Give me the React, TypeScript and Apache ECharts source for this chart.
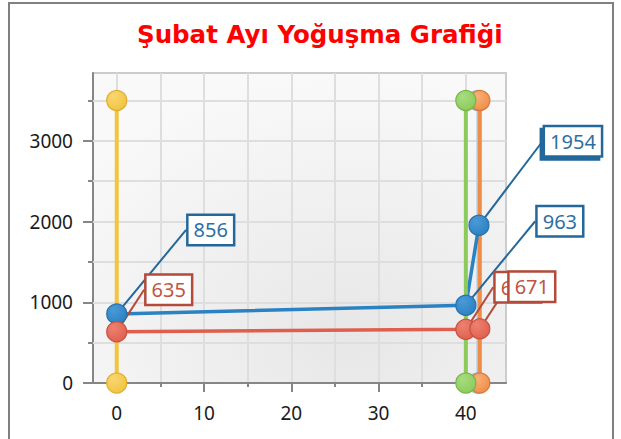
import React, { useEffect, useRef } from "react";
import * as echarts from "echarts";

const titleText = "Şubat Ayı Yoğuşma Grafiği";

const xMin = -2.72;
const xMax = 44.6;
const yMin = 0;
const yMax = 3840;

const xMajorTicks = [0, 10, 20, 30, 40];
const xMinorTicks = [5, 15, 25, 35];
const xGridValues = [0, 5, 10, 15, 20, 25, 30, 35, 40];
const yMajorTicks = [0, 1000, 2000, 3000];
const yMinorTicks = [500, 1500, 2500, 3500];
const yGridValues = [500, 1000, 1500, 2000, 2500, 3000, 3500];

const verticalY = [0, 3500];
const yellowX = [0, 0];
const greenX = [40, 40];
const lightBlueX = [41.35, 41.35];
const orangeX = [41.6, 41.6];

const blueX = [0, 40, 41.5];
const blueY = [856, 963, 1954];
const redX = [0, 40, 41.6];
const redY = [635, 665, 671];

const zip = (xs: number[], ys: number[]) => xs.map((x, i) => [x, ys[i]]);

const ball = (light: string, base: string) => ({
  type: "radial",
  x: 0.35,
  y: 0.3,
  r: 0.8,
  colorStops: [
    { offset: 0, color: light },
    { offset: 1, color: base },
  ],
});

const verticalSeries = (
  name: string,
  xs: number[],
  line: string,
  light: string,
  base: string,
  border: string,
  width = 4
) => ({
  name,
  type: "line",
  data: zip(xs, verticalY),
  symbol: "circle",
  symbolSize: 20,
  clip: false,
  lineStyle: { color: line, width, opacity: 1 },
  itemStyle: { color: ball(light, base), borderColor: border, borderWidth: 1.2 },
  label: { show: false },
  emphasis: { disabled: true },
});

const labelStyle = (text: string, border: string) => ({
  show: true,
  position: "inside",
  formatter: (p: any) => String(p.value[1]),
  color: text,
  fontSize: 20,
  fontFamily: "Noto Sans",
  backgroundColor: "#ffffff",
  borderColor: border,
  borderWidth: 2.5,
  padding: [4, 5, 2, 5],
  lineHeight: 22,
});

export default function App() {
  const ref = useRef<HTMLDivElement>(null);
  useEffect(() => {
    if (!ref.current) return;
    const chart = echarts.init(ref.current, undefined, { renderer: "svg" });
    const axisGray = "#868686";
    const gridGray = "#dedede";
    const blueData: any[] = zip(blueX, blueY).map((v) => ({ value: v }));
    blueData[2].label = {
      shadowColor: "#24679b",
      shadowBlur: 0,
      shadowOffsetX: -3,
      shadowOffsetY: 3,
    };
    const option: any = {
      animation: false,
      title: {
        text: titleText,
        left: 132,
        top: 17,
        textStyle: {
          color: "#ff0000",
          fontSize: 24.5,
          fontWeight: "bold",
          fontFamily: "DejaVu Sans",
        },
      },
      grid: {
        left: 93,
        top: 73,
        right: 115,
        bottom: 56,
        show: true,
        borderColor: "#cccccc",
        borderWidth: 2,
        backgroundColor: {
          type: "radial",
          x: 0.62,
          y: 0.85,
          r: 0.85,
          colorStops: [
            { offset: 0, color: "#e7e7e7" },
            { offset: 1, color: "#f9f9f9" },
          ],
        },
      },
      xAxis: [
        {
          type: "value",
          min: xMin,
          max: xMax,
          position: "bottom",
          z: 3,
          axisLine: { show: true, onZero: false, lineStyle: { color: axisGray, width: 2 } },
          axisTick: { show: true, customValues: xMajorTicks, length: 9, lineStyle: { color: axisGray, width: 2 } },
          axisLabel: {
            customValues: xMajorTicks,
            formatter: (v: number) => String(v),
            margin: 20,
            color: "#1a1a1a",
            fontSize: 19,
            fontFamily: "Noto Sans",
          },
          splitLine: { show: false },
        },
        {
          type: "value",
          min: xMin,
          max: xMax,
          position: "bottom",
          axisLine: { show: false, onZero: false },
          axisTick: { show: true, customValues: xMinorTicks, length: 4, lineStyle: { color: axisGray, width: 2 } },
          axisLabel: { show: false },
          splitLine: { show: false },
        },
      ],
      yAxis: [
        {
          type: "value",
          min: yMin,
          max: yMax,
          position: "left",
          axisLine: { show: true, onZero: false, lineStyle: { color: axisGray, width: 2 } },
          axisTick: { show: true, customValues: yMajorTicks, length: 10, lineStyle: { color: axisGray, width: 2 } },
          axisLabel: {
            customValues: yMajorTicks,
            formatter: (v: number) => String(v),
            margin: 20,
            color: "#1a1a1a",
            fontSize: 19,
            fontFamily: "Noto Sans",
          },
          splitLine: { show: false },
        },
        {
          type: "value",
          min: yMin,
          max: yMax,
          position: "left",
          axisLine: { show: false, onZero: false },
          axisTick: { show: true, customValues: yMinorTicks, length: 5, lineStyle: { color: axisGray, width: 2 } },
          axisLabel: { show: false },
          splitLine: { show: false },
        },
      ],
      series: [
        {
          name: "grid",
          type: "line",
          data: [],
          silent: true,
          z: 1,
          markLine: {
            z: 1,
            silent: true,
            symbol: "none",
            label: { show: false },
            animation: false,
            lineStyle: { color: gridGray, width: 2, type: "solid" },
            data: [
              ...xGridValues.map((v) => ({ xAxis: v })),
              ...yGridValues.map((v) => ({ yAxis: v })),
            ],
          },
        },
        verticalSeries("Açık Mavi", lightBlueX, "#a9d0f0", "#cfe5f7", "#a9d0f0", "#8fbde0", 2.5),
        verticalSeries("Turuncu", orangeX, "#ef8c45", "#f9b07a", "#ef8c45", "#d9773a"),
        {
          name: "Mavi",
          type: "line",
          data: blueData,
          symbol: "circle",
          symbolSize: 20,
          lineStyle: { color: "#2b82c2", width: 3.5 },
          itemStyle: { color: ball("#4a9ad6", "#2b7fc0"), borderColor: "#2470ac", borderWidth: 1.2 },
          label: labelStyle("#2f6f9f", "#24679b"),
          labelLine: { show: true, lineStyle: { color: "#24679b", width: 2 } },
          labelLayout: { dx: 94, dy: -84 },
          emphasis: { disabled: true },
        },
        {
          name: "Kırmızı",
          type: "line",
          data: zip(redX, redY),
          symbol: "circle",
          symbolSize: 20,
          lineStyle: { color: "#df5f4c", width: 3.5 },
          itemStyle: { color: ball("#ee8171", "#de5e4b"), borderColor: "#c8503f", borderWidth: 1.2 },
          label: labelStyle("#c25443", "#b34a3a"),
          labelLine: { show: true, lineStyle: { color: "#b34a3a", width: 2 } },
          labelLayout: { dx: 52, dy: -42 },
          emphasis: { disabled: true },
        },
        verticalSeries("Sarı", yellowX, "#f2c440", "#f8d770", "#f1c23f", "#dfae2e"),
        verticalSeries("Yeşil", greenX, "#8ccb5b", "#a8dc80", "#8bca59", "#76b447"),
      ],
    };
    chart.setOption(option);
    return () => chart.dispose();
  }, []);

  return (
    <div style={{ position: "absolute", left: 0, top: 0, width: 621, height: 439, overflow: "hidden", background: "#fff" }}>
      <div
        style={{
          position: "absolute",
          left: 8,
          top: 2,
          width: 606,
          height: 480,
          border: "2px solid #808080",
          boxSizing: "border-box",
        }}
      />
      <div ref={ref} style={{ position: "absolute", left: 0, top: 0, width: 621, height: 439 }} />
    </div>
  );
}
